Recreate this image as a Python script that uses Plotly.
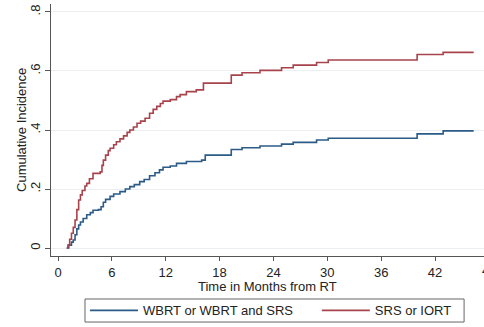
import plotly.graph_objects as go

# Step-function cumulative incidence estimates
srs_t = [0.97, 1.1, 1.3, 1.5, 1.7, 1.9, 2.1, 2.3, 2.5, 2.7, 3.0, 3.2, 3.5, 3.9, 4.7, 4.9, 5.05, 5.3, 5.6,
         5.8, 6.2, 6.5, 6.9, 7.3, 7.7, 8.0, 8.4, 8.8, 9.2, 9.7, 10.2, 10.6, 11.0, 11.4, 11.7, 12.5, 13.2,
         13.6, 14.3, 15.4, 16.2, 19.3, 20.5, 22.5, 24.9, 26.2, 28.8, 30.1, 40.0, 42.9, 46.3]
srs_ci = [0.0, 0.01, 0.03, 0.05, 0.07, 0.095, 0.13, 0.163, 0.18, 0.195, 0.21, 0.219, 0.235, 0.253, 0.258,
          0.28, 0.298, 0.315, 0.33, 0.338, 0.35, 0.36, 0.37, 0.38, 0.392, 0.40, 0.41, 0.423, 0.43, 0.44,
          0.457, 0.47, 0.48, 0.49, 0.498, 0.503, 0.513, 0.52, 0.53, 0.536, 0.559, 0.586, 0.594, 0.602,
          0.611, 0.62, 0.629, 0.637, 0.656, 0.663, 0.663]

wbrt_t = [0.97, 1.2, 1.5, 1.7, 1.9, 2.1, 2.3, 2.5, 2.8, 3.2, 3.6, 3.9, 4.5, 4.8, 5.05, 5.3, 5.8, 6.2, 6.9,
          7.5, 8.0, 8.5, 9.1, 9.6, 10.2, 10.8, 11.3, 11.7, 12.5, 13.2, 14.3, 16.0, 16.4, 19.3, 20.5, 22.5,
          24.9, 26.2, 28.8, 30.1, 40.0, 42.9, 46.3]
wbrt_ci = [0.0, 0.01, 0.02, 0.027, 0.045, 0.065, 0.078, 0.088, 0.1, 0.113, 0.12, 0.128, 0.13, 0.14, 0.155,
           0.165, 0.175, 0.183, 0.191, 0.2, 0.208, 0.215, 0.225, 0.232, 0.245, 0.255, 0.265, 0.274, 0.278,
           0.287, 0.293, 0.298, 0.315, 0.334, 0.34, 0.346, 0.352, 0.358, 0.366, 0.372, 0.387, 0.397, 0.397]

x_ticks = [0, 6, 12, 18, 24, 30, 36, 42]
y_ticks = [0, 0.2, 0.4, 0.6, 0.8]
y_tick_text = ["0", ".2", ".4", ".6", ".8"]

FONT = "Liberation Sans, Arial, sans-serif"
TXT = "#222"

fig = go.Figure()
fig.add_trace(go.Scatter(x=wbrt_t, y=wbrt_ci, mode="lines", line=dict(shape="hv", color="#2b5b86", width=1.6),
                         name="WBRT or WBRT and SRS", legend="legend"))
fig.add_trace(go.Scatter(x=srs_t, y=srs_ci, mode="lines", line=dict(shape="hv", color="#a8434c", width=1.6),
                         name="SRS or IORT", legend="legend2"))

leg_common = dict(orientation="h", xanchor="left", yanchor="middle", borderwidth=0,
                  bgcolor="rgba(0,0,0,0)", font=dict(size=13), itemwidth=48)

fig.update_layout(
    width=484, height=327,
    margin=dict(l=51, r=0, t=4, b=71, autoexpand=False),
    paper_bgcolor="white", plot_bgcolor="white",
    font=dict(family=FONT, size=13, color=TXT),
    showlegend=True,
    legend=dict(x=0.0785, y=-0.216, **leg_common),
    legend2=dict(x=0.614, y=-0.216, **leg_common),
    xaxis=dict(range=[-0.78, 47.45], tickvals=x_ticks, ticks="outside", ticklen=4, tickcolor="#555",
               showline=True, linecolor="#555", linewidth=1, showgrid=False, zeroline=False,
               tickfont=dict(size=13)),
    yaxis=dict(range=[-0.027, 0.827], tickvals=y_ticks, ticktext=y_tick_text, tickangle=-90,
               ticks="outside", ticklen=5, tickcolor="#555",
               showline=True, linecolor="#555", linewidth=1, showgrid=True, gridcolor="#eceff1",
               zeroline=False, tickfont=dict(size=13)),
)
# Axis titles
fig.add_annotation(text="Time in Months from RT", xref="paper", yref="paper", x=0.5, y=-0.121,
                   showarrow=False, xanchor="center", yanchor="middle", font=dict(size=13, color=TXT))
fig.add_annotation(text="Cumulative Incidence", xref="paper", yref="paper", x=-0.0693, y=0.5,
                   textangle=-90, showarrow=False, xanchor="center", yanchor="middle",
                   font=dict(size=13, color=TXT))
# Legend frame
fig.add_shape(type="rect", xref="paper", yref="paper", x0=0.0785, x1=0.954, y0=-0.262, y1=-0.1706,
              line=dict(color="#666", width=1), fillcolor="rgba(0,0,0,0)", layer="below")
# Partially visible "48" tick label at the right edge (cut off as in the original)
fig.add_annotation(text="48", xref="paper", yref="paper", x=1.0115, y=0, yshift=-14,
                   showarrow=False, xanchor="center", yanchor="middle", font=dict(size=13, color=TXT))

fig.write_html("out.html", config={"displayModeBar": False},
               post_script="document.body.style.margin='0';document.body.style.overflow='hidden';")
